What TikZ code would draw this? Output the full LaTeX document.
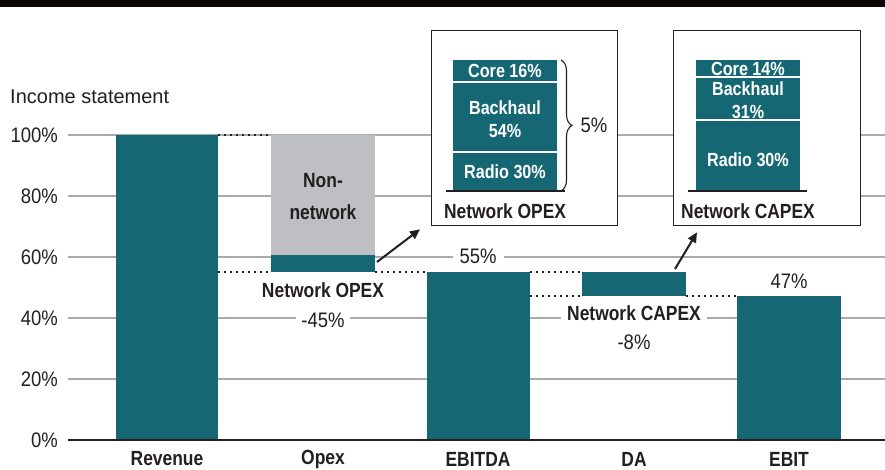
\documentclass[tikz,border=0pt]{standalone}
\usepackage{fontspec}
\setmainfont{Liberation Sans}
\newfontfamily\rcond{Liberation Sans}[FakeStretch=0.88]
\newfontfamily\bcond{Liberation Sans}[FakeStretch=0.85]
\usetikzlibrary{arrows.meta,decorations.pathreplacing,calc}
\definecolor{tealbar}{HTML}{156873}
\definecolor{graybar}{HTML}{BEBFC3}
\definecolor{gridgray}{HTML}{A9AAAD}
\definecolor{txt}{HTML}{231F20}
\definecolor{topbar}{HTML}{0B0506}
\tikzset{
  gridline/.style={draw=gridgray, line width=1.4pt},
  dotline/.style={draw=txt, line width=2pt, dash pattern=on 2pt off 4pt},
  bar/.style={fill=tealbar, draw=none, inner sep=0pt, outer sep=0pt, anchor=north west},
  graybox/.style={fill=graybar, draw=none, inner sep=0pt, outer sep=0pt, anchor=north west},
  lbl/.style={font=\rcond\fontsize{21}{24}\selectfont, text=txt, inner sep=1pt},
  blbl/.style={font=\bcond\bfseries\fontsize{20.5}{24}\selectfont, text=txt, inner sep=1pt},
  wlbl/.style={font=\bcond\bfseries\fontsize{19}{23.5}\selectfont, text=white, align=center, inner sep=0pt},
  inset/.style={draw=txt, line width=1.3pt, fill=white, anchor=north west, inner sep=0pt},
  arr/.style={-{Triangle[length=10pt,width=9pt]}, line width=2pt, draw=txt},
  divider/.style={draw=white, line width=1.5pt},
  baseline/.style={draw=txt, line width=2.6pt},
  bracestyle/.style={draw=txt, line width=1.1pt, decorate, decoration={brace, amplitude=11pt}},
}
\begin{document}
\begin{tikzpicture}[x=1pt, y=-1pt]
\useasboundingbox (0,0) rectangle (885,470);
% top black band
\fill[topbar] (0,0) rectangle (885,7);

% gridlines
\foreach \yy in {135,196,257,318,379}{
  \draw[gridline] (68,\yy) -- (885,\yy);
}

% tick labels
\node[lbl, anchor=west, font=\fontsize{20}{24}\selectfont] (title) at (9,97) {Income statement};
\node[lbl, anchor=east] (t100) at (59,135) {100\%};
\node[lbl, anchor=east] (t80) at (59,196) {80\%};
\node[lbl, anchor=east] (t60) at (59,257) {60\%};
\node[lbl, anchor=east] (t40) at (59,318) {40\%};
\node[lbl, anchor=east] (t20) at (59,379) {20\%};
\node[lbl, anchor=east] (t0) at (59,440) {0\%};

% bars
\node[bar, minimum width=102, minimum height=305] (rev) at (116,135) {};
\node[graybox, minimum width=104, minimum height=120] (opexgray) at (271,135) {};
\node[bar, minimum width=104, minimum height=17] (opexnet) at (271,255) {};
\node[bar, minimum width=103, minimum height=168] (ebitda) at (427,272) {};
\node[bar, minimum width=104, minimum height=24] (da) at (582,272) {};
\node[bar, minimum width=104, minimum height=144] (ebit) at (737,296) {};

% axis
\draw[draw=txt, line width=2.5pt] (68,440) -- (885,440);

% dotted connectors
\draw[dotline] (rev.north east) -- (opexgray.north west);
\draw[dotline] (rev.east |- opexnet.south) -- (opexnet.south west);
\draw[dotline] (opexnet.south east) -- (ebitda.north west);
\draw[dotline] (ebitda.north east) -- (da.north west);
\draw[dotline] (ebitda.east |- da.south) -- (da.south west);
\draw[dotline] (da.south east) -- (ebit.north west);

% bar labels
\node[blbl, align=center, font=\bcond\bfseries\fontsize{20.5}{32}\selectfont] (nonnet) at (323,197) {Non-\\network};
\node[blbl] (netopex) at (323,290) {Network OPEX};
\node[lbl, fill=white, inner xsep=5pt] (m45) at (323,320) {-45\%};
\node[lbl, fill=white, inner xsep=7pt] (p55) at (478,256) {55\%};
\node[blbl, fill=white, inner xsep=6pt] (netcapex) at (634,313) {Network CAPEX};
\node[lbl] (m8) at (634,342) {-8\%};
\node[lbl] (p47) at (789,281) {47\%};

% category labels
\node[blbl] (crev) at (167,459) {Revenue};
\node[blbl] (copex) at (323,459) {Opex};
\node[blbl] (cebitda) at (478,459) {EBITDA};
\node[blbl] (cda) at (634,459) {DA};
\node[blbl] (cebit) at (789,459) {EBIT};

% inset boxes
\node[inset, minimum width=186, minimum height=195] (box1) at (431,30) {};
\node[inset, minimum width=187, minimum height=195] (box2) at (673,30) {};

% inset 1 stacked bar
\node[bar, minimum width=104, minimum height=22] (core1) at (453,60) {};
\node[bar, minimum width=104, minimum height=70] (back1) at (453,82) {};
\node[bar, minimum width=104, minimum height=39] (radio1) at (453,152) {};
\draw[divider] (back1.north west) -- (back1.north east);
\draw[divider] (radio1.north west) -- (radio1.north east);
\node[wlbl] (core1t) at (505,71) {Core 16\%};
\node[wlbl] (back1t) at (505,119) {Backhaul\\54\%};
\node[wlbl] (radio1t) at (505,172) {Radio 30\%};
\draw[baseline] ($(radio1.south west)+(-7,0)$) -- ($(radio1.south east)+(8,0)$);
\draw[bracestyle] ($(core1.north east)+(4,0)$) -- ($(radio1.south east)+(4,0)$);
\node[lbl] (five) at (594,125) {5\%};
\node[blbl] (box1t) at (505,211) {Network OPEX};

% inset 2 stacked bar
\node[bar, minimum width=104, minimum height=17] (core2) at (696,60) {};
\node[bar, minimum width=104, minimum height=43] (back2) at (696,77) {};
\node[bar, minimum width=104, minimum height=71] (radio2) at (696,120) {};
\draw[divider] (back2.north west) -- (back2.north east);
\draw[divider] (radio2.north west) -- (radio2.north east);
\node[wlbl] (core2t) at (748,68.5) {Core 14\%};
\node[wlbl] (back2t) at (748,100) {Backhaul\\31\%};
\node[wlbl] (radio2t) at (748,160) {Radio 30\%};
\draw[baseline] ($(radio2.south west)+(-8,0)$) -- ($(radio2.south east)+(7,0)$);
\node[blbl] (box2t) at (748,211) {Network CAPEX};

% arrows
\coordinate (a1s) at ($(opexnet.east)+(2,-1.5)$);
\coordinate (a1e) at ($(box1.south west)+(-11,3)$);
\draw[arr] (a1s) -- (a1e);
\coordinate (a2s) at ($(da.north east)+(-11,-3)$);
\coordinate (a2e) at ($(box2.south west)+(24,6)$);
\draw[arr] (a2s) -- (a2e);
\end{tikzpicture}
\end{document}
